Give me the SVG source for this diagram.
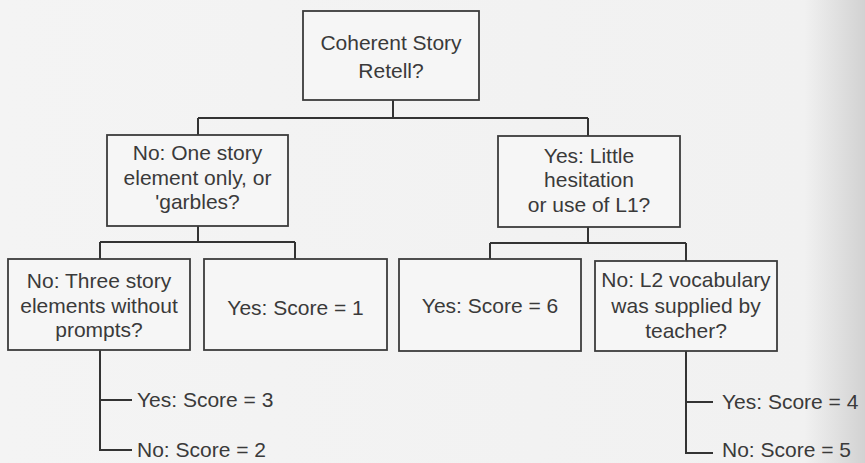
<svg xmlns="http://www.w3.org/2000/svg" width="865" height="463" viewBox="0 0 865 463">
  <defs>
    <linearGradient id="paper" x1="0" y1="0" x2="1" y2="0">
      <stop offset="0" stop-color="#f4f4f4"/>
      <stop offset="0.93" stop-color="#f1f1f1"/>
      <stop offset="1" stop-color="#d2d2d2"/>
    </linearGradient>
    <style>
      .box { fill: #f6f6f6; stroke: #3c3c3c; stroke-width: 1.8; }
      .edge { fill: none; stroke: #333; stroke-width: 2; }
      .t { font-family: "Liberation Sans", Arial, sans-serif; font-size: 21px; fill: #3a3a3a; text-anchor: middle; }
      .l { text-anchor: start; }
    </style>
  </defs>

  <rect x="0" y="0" width="865" height="463" fill="url(#paper)"/>

  <!-- connectors -->
  <g id="connectors">
    <path class="edge" d="M393 100 V118 M198 118 H588 M198 118 V135 M588 118 V136"/>
    <path class="edge" d="M198 226 V242 M100 242 H295 M100 242 V259 M295 242 V259"/>
    <path class="edge" d="M588 227 V243 M490 243 H686 M490 243 V259 M686 243 V261"/>
    <path class="edge" d="M100 350 V450 H132 M100 400 H132"/>
    <path class="edge" d="M686 351 V453 H713 M686 402 H713"/>
  </g>

  <!-- nodes -->
  <g id="root">
    <rect class="box" x="303" y="11" width="176" height="89"/>
    <text class="t" x="391" y="50">Coherent Story</text>
    <text class="t" x="391" y="78">Retell?</text>
  </g>

  <g id="no-one-element">
    <rect class="box" x="107" y="135" width="181" height="91"/>
    <text class="t" x="197.5" y="160">No: One story</text>
    <text class="t" x="197.5" y="185">element only, or</text>
    <text class="t" x="197.5" y="209">'garbles?</text>
  </g>

  <g id="yes-little-hesitation">
    <rect class="box" x="498" y="136" width="182" height="91"/>
    <text class="t" x="589" y="163">Yes: Little</text>
    <text class="t" x="589" y="187">hesitation</text>
    <text class="t" x="589" y="212">or use of L1?</text>
  </g>

  <g id="no-three-elements">
    <rect class="box" x="8" y="259" width="182" height="91"/>
    <text class="t" x="99" y="288">No: Three story</text>
    <text class="t" x="99" y="313">elements without</text>
    <text class="t" x="99" y="337">prompts?</text>
  </g>

  <g id="score-1">
    <rect class="box" x="204" y="259" width="183" height="91"/>
    <text class="t" x="295.5" y="315">Yes: Score = 1</text>
  </g>

  <g id="score-6">
    <rect class="box" x="399" y="259" width="182" height="92"/>
    <text class="t" x="490" y="313">Yes: Score = 6</text>
  </g>

  <g id="no-l2-vocabulary">
    <rect class="box" x="595" y="261" width="182" height="90"/>
    <text class="t" x="686" y="287">No: L2 vocabulary</text>
    <text class="t" x="686" y="313">was supplied by</text>
    <text class="t" x="686" y="338">teacher?</text>
  </g>

  <g id="score-3">
    <text class="t l" x="137" y="407">Yes: Score = 3</text>
  </g>
  <g id="score-2">
    <text class="t l" x="137" y="457">No: Score = 2</text>
  </g>
  <g id="score-4">
    <text class="t l" x="722" y="409">Yes: Score = 4</text>
  </g>
  <g id="score-5">
    <text class="t l" x="722" y="457">No: Score = 5</text>
  </g>
</svg>
